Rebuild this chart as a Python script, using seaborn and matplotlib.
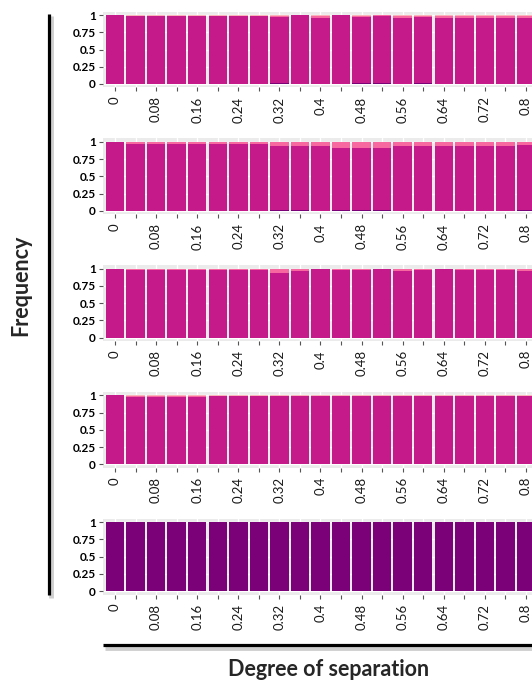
# -*- coding: utf-8 -*-
"""
Stacked frequency bars by degree of separation, five panels.
"""

import seaborn as sns
import matplotlib.pyplot as plt
from matplotlib.lines import Line2D

# --- data -------------------------------------------------------------
separation = ["0", "0.04", "0.08", "0.12", "0.16", "0.2", "0.24", "0.28",
              "0.32", "0.36", "0.4", "0.44", "0.48", "0.52", "0.56", "0.6",
              "0.64", "0.68", "0.72", "0.76", "0.8"]
shown_labels = ["0", "", "0.08", "", "0.16", "", "0.24", "", "0.32", "",
                "0.4", "", "0.48", "", "0.56", "", "0.64", "", "0.72", "", "0.8"]

# fractions per panel (magenta is whatever is left up to 1)
p1_purple = [0, .006, .006, .006, .006, .006, .006, .006, .008, 0, 0,
             0, .008, .008, 0, .008, 0, 0, 0, 0, 0]
p1_pink = [0, .012, .012, .012, .012, .012, .012, .012, .016, 0, .032,
           0, .026, .008, .032, .016, .032, .032, .032, .032, .032]
p1_peach = [0, .008, .008, .008, .008, .008, .008, .008, .008, .005, .008,
            .005, .008, .007, .008, .008, .008, .008, .008, .008, .008]

p2_purple = [0, .004, .004, .004, .004, .004, .004, .004, .008, .008, 0,
             .008, .008, .008, 0, 0, 0, 0, 0, 0, .008]
p2_pink = [0, .024, .024, .024, .024, .024, .024, .024, .053, .053, .053,
           .082, .082, .082, .053, .053, .053, .053, .053, .053, .038]
p2_peach = [0, .01, .01, .01, .01, .01, .01, .01, .01, .01, .01,
            .01, .01, .01, .01, .01, .01, .01, .01, .01, .01]

p3_purple = [0] * 21
p3_pink = [0, .008, .008, .008, .008, .008, .008, .008, .052, .024, 0,
           .008, .008, 0, .024, .008, 0, .008, .008, .008, .024]
p3_peach = [0, .007, .007, .007, .007, .007, .007, .007, .008, .006, .005,
            .007, .007, .005, .006, .007, 0, .007, .007, .007, .006]

p4_purple = [0] * 21
p4_pink = [0, .012, .012, .008, .012, 0, 0, 0, 0, 0, 0,
           0, 0, 0, 0, 0, 0, 0, 0, 0, 0]
p4_peach = [0, .008, .008, .008, .008, .003, .003, .003, .003, .003, .003,
            .003, .003, .003, .003, .003, .003, .003, .003, .003, .003]

p5_purple = [1] * 21
p5_pink = [0] * 21
p5_peach = [0] * 21

panels = [
    (p1_purple, p1_pink, p1_peach),
    (p2_purple, p2_pink, p2_peach),
    (p3_purple, p3_pink, p3_peach),
    (p4_purple, p4_pink, p4_peach),
    (p5_purple, p5_pink, p5_peach),
]

# RdPu: dark purple, magenta, pink, light pink
colors = ["#7a0177", "#c51b8a", "#f768a1", "#fbb4b9"]

W, H = 532, 680


def fx(px):
    return px / W


def fy(px):
    return 1 - px / H


def draw_panel(ax, purple, pink, peach):
    magenta = [1 - a - b - c for a, b, c in zip(purple, pink, peach)]
    layers = [purple, magenta, pink, peach]
    # cumulative heights, drawn from the tallest down
    cum = []
    run = [0] * len(separation)
    for layer in layers:
        run = [r + v for r, v in zip(run, layer)]
        cum.append(run)
    for heights, col in reversed(list(zip(cum, colors))):
        sns.barplot(x=separation, y=heights, order=separation, color=col,
                    saturation=1, width=0.9, linewidth=0, errorbar=None, ax=ax)

    ax.set_xlim(-0.6, len(separation) - 0.4)
    ax.set_ylim(-0.05, 1.05)
    ax.set_yticks([0, 0.25, 0.5, 0.75, 1])
    ax.set_yticklabels(["0", "0.25", "0.5", "0.75", "1"],
                       fontsize=8.5, fontweight="bold", color="black")
    ax.set_xticks(range(len(separation)))
    ax.set_xticklabels(shown_labels, rotation=90, fontsize=9.5, color="#1a1a1a")
    ax.tick_params(axis="both", bottom=True, left=True, length=3,
                   width=0.8, color="#555555")
    ax.tick_params(axis="x", pad=3.5)
    ax.tick_params(axis="y", pad=2)
    ax.set_xlabel("")
    ax.set_ylabel("")
    ax.grid(True, color="white", linewidth=1)
    for s in ax.spines.values():
        s.set_visible(False)


if __name__ == "__main__":
    sns.set_style("darkgrid", {"axes.facecolor": "#EBEBEB", "grid.color": "white"})
    plt.rcParams["font.family"] = ["Lato", "DejaVu Sans"]

    fig = plt.figure(figsize=(W / 100, H / 100), dpi=100)

    step = 20.55
    left_px = 115 - 0.6 * step
    width_px = (len(separation) + 0.2) * step
    for i, (pu, pk, pe) in enumerate(panels):
        top_px = 11.55 + 126.8 * i
        h_px = 75.9
        ax = fig.add_axes([fx(left_px), fy(top_px + h_px), width_px / W, h_px / H])
        draw_panel(ax, pu, pk, pe)

    # decorative axis lines with a soft shadow
    fig.add_artist(Line2D([fx(51), fx(51)], [fy(16), fy(598)],
                          color="#cfcfcf", linewidth=3.5, solid_capstyle="butt"))
    fig.add_artist(Line2D([fx(48.5), fx(48.5)], [fy(14), fy(595)],
                          color="black", linewidth=2.3, solid_capstyle="butt"))
    fig.add_artist(Line2D([fx(105), fx(540)], [fy(647.5), fy(647.5)],
                          color="#cfcfcf", linewidth=3.5, solid_capstyle="butt"))
    fig.add_artist(Line2D([fx(103), fx(540)], [fy(644.5), fy(644.5)],
                          color="black", linewidth=2.3, solid_capstyle="butt"))

    fig.text(fx(21), fy(285), "Frequency", rotation=90, ha="center",
             va="center", fontsize=15.5, fontweight="bold")
    fig.text(fx(329), fy(676), "Degree of separation", ha="center",
             va="baseline", fontsize=15.5, fontweight="bold")

    fig.savefig("out.png", dpi=100)
